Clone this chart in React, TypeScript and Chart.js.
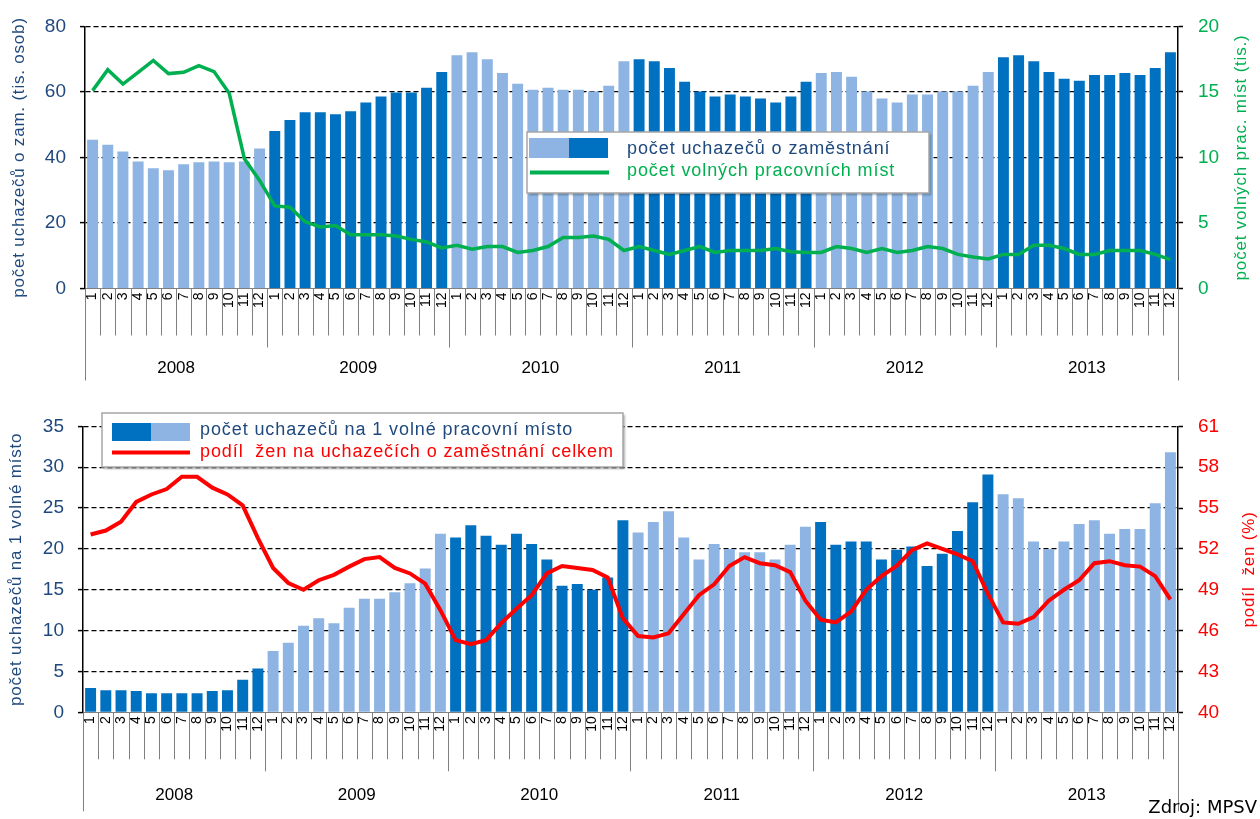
import React, { useEffect, useRef } from 'react';
import { Chart, registerables } from 'chart.js';

Chart.register(...registerables);

// ---------- data ----------
const years = ['2008', '2009', '2010', '2011', '2012', '2013'];
const months = ['1', '2', '3', '4', '5', '6', '7', '8', '9', '10', '11', '12'];
const monthLabels = years.flatMap(() => months);

// počet uchazečů o zaměstnání (tis. osob)
const applicants = [
  45.4, 43.9, 41.8, 38.8, 36.7, 36.1, 37.9, 38.5, 38.8, 38.5, 38.8, 42.7,
  48.1, 51.4, 53.8, 53.8, 53.2, 54.1, 56.8, 58.6, 59.8, 59.8, 61.3, 66.1,
  71.2, 72.1, 70.0, 65.8, 62.5, 60.7, 61.3, 60.7, 60.7, 60.1, 61.9, 69.4,
  70.0, 69.4, 67.3, 63.1, 60.1, 58.6, 59.2, 58.6, 58.0, 56.8, 58.6, 63.1,
  65.8, 66.1, 64.6, 60.1, 58.0, 56.8, 59.2, 59.2, 60.1, 60.1, 61.9, 66.1,
  70.6, 71.2, 69.4, 66.1, 64.0, 63.4, 65.2, 65.2, 65.8, 65.2, 67.3, 72.1,
];

// počet volných pracovních míst (tis.)
const vacancies = [
  15.1, 16.7, 15.6, 16.5, 17.4, 16.4, 16.5, 17.0, 16.55, 14.9, 9.9, 8.25,
  6.3, 6.2, 5.1, 4.7, 4.8, 4.1, 4.1, 4.1, 4.0, 3.75, 3.55, 3.1,
  3.3, 3.0, 3.2, 3.2, 2.75, 2.9, 3.2, 3.9, 3.9, 4.0, 3.75, 2.9,
  3.2, 2.9, 2.6, 2.9, 3.2, 2.75, 2.9, 2.9, 2.9, 3.05, 2.8, 2.75,
  2.75, 3.2, 3.05, 2.75, 3.05, 2.75, 2.9, 3.2, 3.05, 2.6, 2.4, 2.25,
  2.6, 2.6, 3.3, 3.3, 3.05, 2.6, 2.6, 2.9, 2.9, 2.9, 2.6, 2.2,
];

// počet uchazečů na 1 volné pracovní místo
const perVacancy = [
  2.97, 2.7, 2.7, 2.6, 2.33, 2.33, 2.33, 2.33, 2.6, 2.7, 4.0, 5.35,
  7.5, 8.5, 10.6, 11.5, 10.9, 12.8, 13.9, 13.9, 14.7, 15.8, 17.6, 21.85,
  21.4, 22.9, 21.6, 20.5, 21.85, 20.6, 18.7, 15.5, 15.7, 15.0, 16.5, 23.5,
  22.0, 23.3, 24.6, 21.4, 18.7, 20.6, 20.0, 19.6, 19.6, 18.7, 20.5, 22.7,
  23.3, 20.5, 20.9, 20.9, 18.7, 19.9, 20.3, 17.9, 19.4, 22.2, 25.7, 29.1,
  26.7, 26.2, 20.9, 20.0, 20.9, 23.05, 23.5, 21.85, 22.45, 22.45, 25.6, 31.85,
];

// podíl žen na uchazečích o zaměstnání celkem (%)
const womenShare = [
  53.06, 53.35, 54.0, 55.45, 56.0, 56.4, 57.3, 57.3, 56.5, 56.0, 55.2, 52.8,
  50.6, 49.5, 49.0, 49.7, 50.1, 50.7, 51.25, 51.4, 50.6, 50.2, 49.45, 47.5,
  45.3, 45.0, 45.3, 46.55, 47.6, 48.6, 50.2, 50.75, 50.6, 50.45, 49.9, 46.9,
  45.6, 45.5, 45.8, 47.2, 48.6, 49.4, 50.75, 51.4, 50.95, 50.8, 50.3, 48.2,
  46.8, 46.6, 47.4, 49.0, 50.0, 50.75, 51.9, 52.4, 52.0, 51.6, 51.1, 48.7,
  46.6, 46.5, 47.0, 48.2, 49.0, 49.7, 50.95, 51.1, 50.8, 50.7, 50.0, 48.3,
];

// ---------- styles ----------
const LIGHT = '#8DB4E2';
const DARK = '#0070C0';
const GREEN = '#00B050';
const RED = '#FF0000';
const NAVY = '#1F497D';
const FONT = '"Liberation Sans", Arial, sans-serif';

type LegendSpec = {
  box: [number, number, number, number];
  swatches: { color: string; x: number; w: number }[];
  swY: number;
  swH: number;
  line: { color: string; x1: number; x2: number; y: number; w: number };
  textX: number;
  rows: { text: string; color: string; y: number }[];
};

type Decor = {
  leftTitle: string;
  rightTitle: string;
  rightColor: string;
  leftX: number;
  rightX: number;
  monthLen: number;
  yearLen: number;
  endLen: number;
  yearY: number;
  legend: LegendSpec;
  source?: { text: string; x: number; y: number };
};

const makeDecor = (d: Decor) => ({
  id: 'decor',
  afterDraw(chart: any) {
    const { ctx, chartArea: a, scales } = chart;
    const x = scales.x;
    const n = chart.data.labels.length;
    const step = x.getPixelForValue(1) - x.getPixelForValue(0);
    const bnd = (k: number) => x.getPixelForValue(0) - step / 2 + k * step;
    ctx.save();
    // category separators
    ctx.strokeStyle = '#808080';
    ctx.lineWidth = 1;
    for (let k = 0; k <= n; k++) {
      const len = k === 0 || k === n ? d.endLen : k % 12 === 0 ? d.yearLen : d.monthLen;
      const px = Math.round(bnd(k)) + 0.5;
      ctx.beginPath();
      ctx.moveTo(px, a.bottom);
      ctx.lineTo(px, a.bottom + len);
      ctx.stroke();
    }
    // year labels
    ctx.fillStyle = '#000';
    ctx.font = `17px ${FONT}`;
    ctx.textAlign = 'center';
    ctx.textBaseline = 'middle';
    years.forEach((y, i) => {
      ctx.fillText(y, (bnd(i * 12) + bnd(i * 12 + 12)) / 2, a.bottom + d.yearY);
    });
    // axis titles
    const cy = (a.top + a.bottom) / 2;
    const vText = (t: string, tx: number, color: string) => {
      ctx.save();
      ctx.translate(tx, cy);
      ctx.rotate(-Math.PI / 2);
      ctx.fillStyle = color;
      ctx.font = `17px ${FONT}`;
      ctx.letterSpacing = '0.8px';
      ctx.textAlign = 'center';
      ctx.textBaseline = 'middle';
      ctx.fillText(t, 0, 0);
      ctx.restore();
    };
    vText(d.leftTitle, d.leftX, NAVY);
    vText(d.rightTitle, d.rightX, d.rightColor);
    // legend
    const L = d.legend;
    ctx.save();
    ctx.shadowColor = 'rgba(0,0,0,0.3)';
    ctx.shadowOffsetX = 2;
    ctx.shadowOffsetY = 2;
    ctx.shadowBlur = 2;
    ctx.fillStyle = '#fff';
    ctx.fillRect(L.box[0], L.box[1], L.box[2], L.box[3]);
    ctx.restore();
    ctx.strokeStyle = '#A6A6A6';
    ctx.lineWidth = 1.5;
    ctx.strokeRect(L.box[0], L.box[1], L.box[2], L.box[3]);
    L.swatches.forEach((s) => {
      ctx.fillStyle = s.color;
      ctx.fillRect(s.x, L.swY, s.w, L.swH);
    });
    ctx.strokeStyle = L.line.color;
    ctx.lineWidth = L.line.w;
    ctx.beginPath();
    ctx.moveTo(L.line.x1, L.line.y);
    ctx.lineTo(L.line.x2, L.line.y);
    ctx.stroke();
    ctx.save();
    ctx.font = `18px ${FONT}`;
    ctx.letterSpacing = '0.9px';
    ctx.textAlign = 'left';
    ctx.textBaseline = 'middle';
    L.rows.forEach((r) => {
      ctx.fillStyle = r.color;
      ctx.fillText(r.text, L.textX, r.y);
    });
    ctx.restore();
    if (d.source) {
      ctx.fillStyle = '#000';
      ctx.font = '18px "DejaVu Sans", Verdana, sans-serif';
      ctx.textAlign = 'right';
      ctx.textBaseline = 'middle';
      ctx.fillText(d.source.text, d.source.x, d.source.y);
    }
    ctx.restore();
  },
});

const barColors = (arr: number[], firstLight: boolean) =>
  arr.map((_, i) => ((Math.floor(i / 12) % 2 === 0) === firstLight ? LIGHT : DARK));

const xScale = (height: number) => ({
  offset: true,
  grid: { display: false, drawTicks: false },
  border: { display: true, color: '#808080', width: 1 },
  ticks: {
    autoSkip: false,
    maxRotation: 90,
    minRotation: 90,
    color: '#000',
    font: { family: FONT, size: 14 },
    padding: 4,
  },
  afterFit: (s: any) => {
    s.height = height;
  },
});

const leftScale = (min: number, max: number, stepSize: number, width: number) => ({
  position: 'left',
  min,
  max,
  ticks: { stepSize, color: NAVY, font: { family: FONT, size: 19 }, padding: 14 },
  grid: {
    color: (c: any) => (c.tick && c.tick.value === min ? 'rgba(0,0,0,0)' : '#000'),
    lineWidth: 1.2,
    drawTicks: true,
    tickLength: 5,
    tickColor: '#000',
    tickWidth: 1.5,
  },
  border: { display: true, color: '#000', width: 1.5, dash: [5, 3] },
  afterFit: (s: any) => {
    s.width = width;
  },
});

const rightScale = (min: number, max: number, stepSize: number, color: string) => ({
  position: 'right',
  min,
  max,
  ticks: { stepSize, color, font: { family: FONT, size: 19 }, padding: 15 },
  grid: { drawOnChartArea: false, drawTicks: true, tickLength: 5, tickColor: '#000', tickWidth: 1.5 },
  border: { display: true, color: '#000', width: 1.5 },
  afterFit: (s: any) => {
    s.width = 82;
  },
});

export default function App() {
  const topRef = useRef<HTMLCanvasElement>(null);
  const botRef = useRef<HTMLCanvasElement>(null);

  useEffect(() => {
    document.body.style.margin = '0';
    const top = new Chart(topRef.current as HTMLCanvasElement, {
      type: 'bar',
      data: {
        labels: monthLabels,
        datasets: [
          {
            type: 'line',
            label: 'počet volných pracovních míst',
            data: vacancies,
            yAxisID: 'y1',
            borderColor: GREEN,
            borderWidth: 3.5,
            pointRadius: 0,
            tension: 0,
            order: 0,
          } as any,
          {
            type: 'bar',
            label: 'počet uchazečů o zaměstnání',
            data: applicants,
            yAxisID: 'y',
            backgroundColor: barColors(applicants, true),
            barPercentage: 0.72,
            categoryPercentage: 1,
            order: 1,
          },
        ],
      },
      options: {
        animation: false,
        responsive: false,
        layout: { padding: { top: 21.7, left: 0, right: 0, bottom: 0 } },
        plugins: { legend: { display: false }, tooltip: { enabled: false } },
        scales: {
          x: xScale(111.5) as any,
          y: leftScale(0, 80, 20, 85) as any,
          y1: rightScale(0, 20, 5, GREEN) as any,
        },
      },
      plugins: [
        makeDecor({
          leftTitle: 'počet uchazečů o zam. (tis. osob)',
          rightTitle: 'počet volných prac. míst (tis.)',
          rightColor: GREEN,
          leftX: 19,
          rightX: 1241,
          monthLen: 47,
          yearLen: 59,
          endLen: 92,
          yearY: 80,
          legend: {
            box: [527, 132, 402, 61],
            swatches: [
              { color: LIGHT, x: 529, w: 40 },
              { color: DARK, x: 569, w: 39 },
            ],
            swY: 138,
            swH: 20,
            line: { color: GREEN, x1: 530, x2: 609, y: 172.5, w: 4 },
            textX: 627,
            rows: [
              { text: 'počet uchazečů o zaměstnání', color: NAVY, y: 149 },
              { text: 'počet volných pracovních míst', color: GREEN, y: 171.5 },
            ],
          },
        }),
      ],
    });

    const bot = new Chart(botRef.current as HTMLCanvasElement, {
      type: 'bar',
      data: {
        labels: monthLabels,
        datasets: [
          {
            type: 'line',
            label: 'podíl  žen na uchazečích o zaměstnání celkem',
            data: womenShare,
            yAxisID: 'y1',
            borderColor: RED,
            borderWidth: 4,
            pointRadius: 0,
            tension: 0,
            order: 0,
          } as any,
          {
            type: 'bar',
            label: 'počet uchazečů na 1 volné pracovní místo',
            data: perVacancy,
            yAxisID: 'y',
            backgroundColor: barColors(perVacancy, false),
            barPercentage: 0.72,
            categoryPercentage: 1,
            order: 1,
          },
        ],
      },
      options: {
        animation: false,
        responsive: false,
        layout: { padding: { top: 21.7, left: 0, right: 0, bottom: 0 } },
        plugins: { legend: { display: false }, tooltip: { enabled: false } },
        scales: {
          x: xScale(106.7) as any,
          y: leftScale(0, 35, 5, 83) as any,
          y1: rightScale(40, 61, 3, RED) as any,
        },
      },
      plugins: [
        makeDecor({
          leftTitle: 'počet uchazečů na 1 volné místo',
          rightTitle: 'podíl  žen (%)',
          rightColor: RED,
          leftX: 16,
          rightX: 1249,
          monthLen: 47,
          yearLen: 59,
          endLen: 99,
          yearY: 83,
          legend: {
            box: [102, 13, 521, 54],
            swatches: [
              { color: DARK, x: 112, w: 39 },
              { color: LIGHT, x: 151, w: 39 },
            ],
            swY: 23,
            swH: 18,
            line: { color: RED, x1: 112, x2: 190, y: 52.5, w: 4 },
            textX: 200,
            rows: [
              { text: 'počet uchazečů na 1 volné pracovní místo', color: NAVY, y: 30 },
              { text: 'podíl  žen na uchazečích o zaměstnání celkem', color: RED, y: 52 },
            ],
          },
          source: { text: 'Zdroj: MPSV', x: 1257, y: 408 },
        }),
      ],
    });

    return () => {
      top.destroy();
      bot.destroy();
    };
  }, []);

  return (
    <div style={{ position: 'relative', width: 1260, height: 819, background: '#fff' }}>
      <canvas ref={topRef} width={1260} height={400} style={{ position: 'absolute', left: 0, top: 0 }} />
      <canvas ref={botRef} width={1260} height={419} style={{ position: 'absolute', left: 0, top: 400 }} />
    </div>
  );
}
